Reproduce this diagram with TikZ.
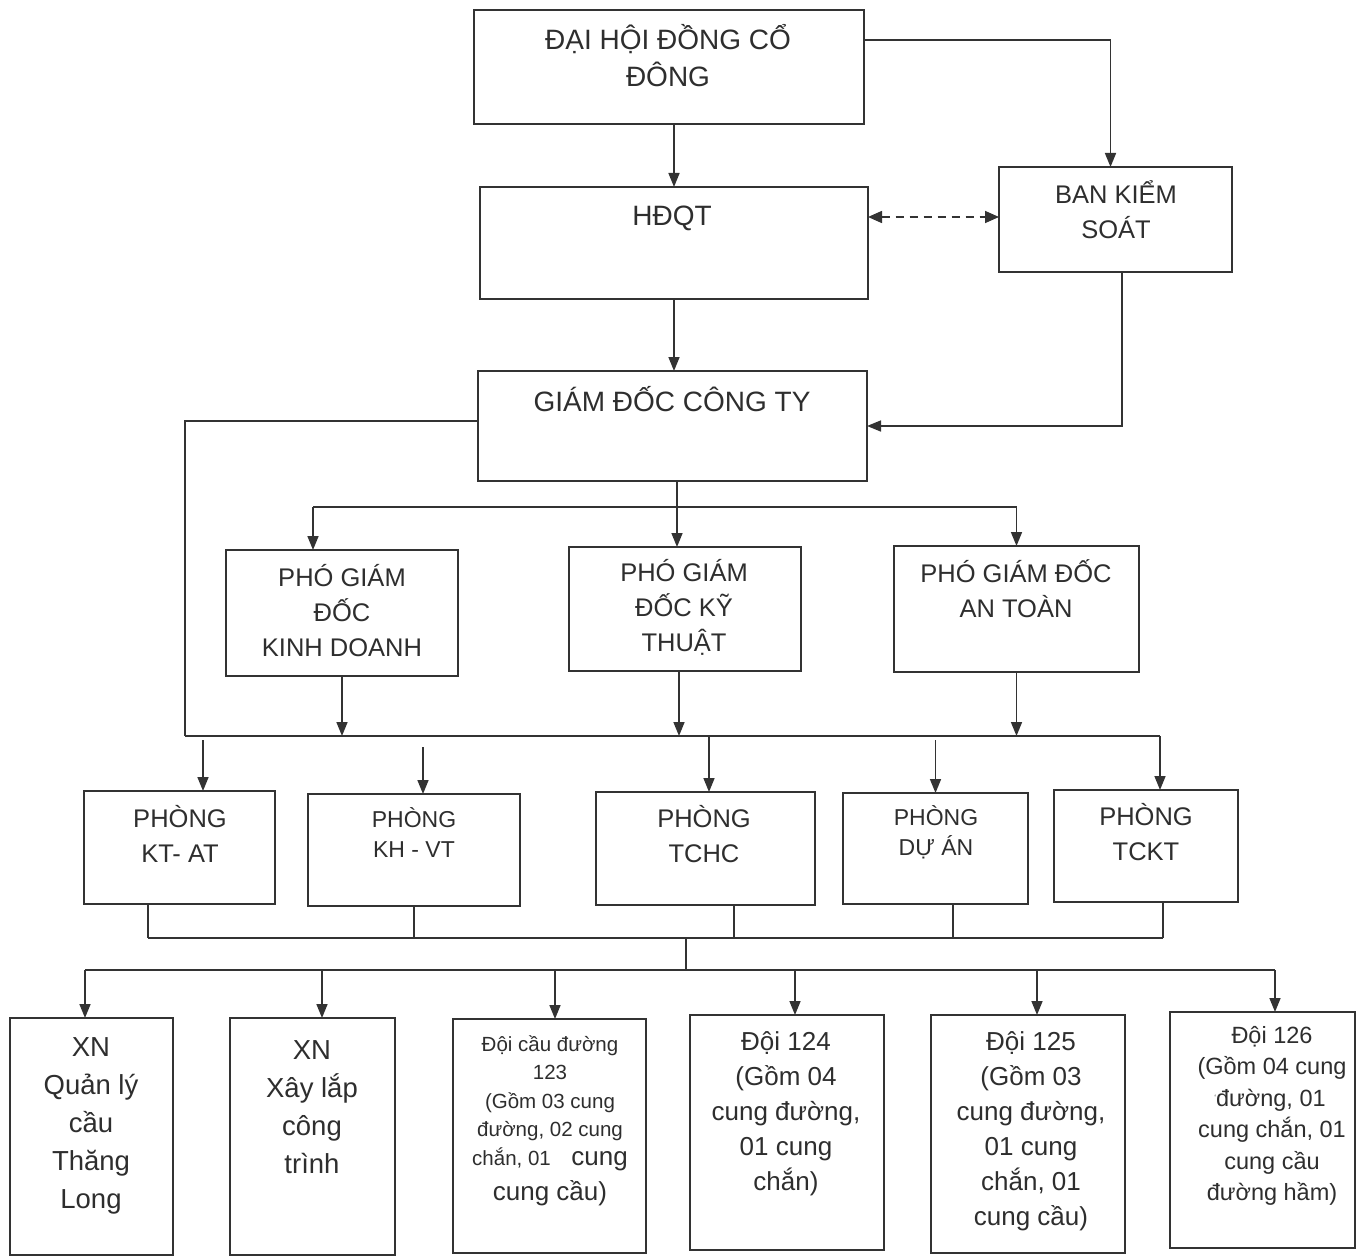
\documentclass[tikz,border=0pt]{standalone}
\usepackage{fontspec}
\setmainfont{Liberation Sans}
\usetikzlibrary{arrows.meta,calc}
\begin{document}
\begin{tikzpicture}[x=1pt,y=-1pt,
 box/.style={draw=black!80,line width=1.8pt,inner sep=0pt,outer sep=0pt},
 ln/.style={draw=black!80,line width=1.6pt},
 arr/.style={ln,-{Triangle[length=14pt,width=11pt]}},
 darr/.style={ln,dash pattern=on 8pt off 6pt,{Triangle[length=14pt,width=12pt]}-{Triangle[length=14pt,width=12pt]}},
 tx/.style={align=center,inner sep=0pt,text=black!82},
 fA/.style={tx,font=\fontsize{28}{37}\selectfont},
 fB/.style={tx,font=\fontsize{25.5}{35}\selectfont},
 fC/.style={tx,font=\fontsize{23}{30}\selectfont},
 fD/.style={tx,font=\fontsize{27.5}{38}\selectfont},
 fE/.style={tx,font=\fontsize{26}{35}\selectfont},
 fF/.style={tx,font=\fontsize{23.5}{31.5}\selectfont},
 fG/.style={tx,font=\fontsize{20.5}{28.5}\selectfont}]
\useasboundingbox[fill=white] (0,0) rectangle (1363,1257);

% ---------- boxes ----------
\node[box,minimum width=390pt,minimum height=114pt] (dhd) at (669,67) {};
\node[box,minimum width=388pt,minimum height=112pt] (hdqt) at (674,243) {};
\node[box,minimum width=233pt,minimum height=105pt] (bks) at (1115.5,219.5) {};
\node[box,minimum width=389pt,minimum height=110pt] (gd) at (672.5,426) {};
\node[box,minimum width=232pt,minimum height=126pt] (pkd) at (342,613) {};
\node[box,minimum width=232pt,minimum height=124pt] (pkt) at (685,609) {};
\node[box,minimum width=245pt,minimum height=126pt] (pat) at (1016.5,609) {};
\node[box,minimum width=191pt,minimum height=113pt] (ktat) at (179.5,847.5) {};
\node[box,minimum width=212pt,minimum height=112pt] (khvt) at (414,850) {};
\node[box,minimum width=219pt,minimum height=113pt] (tchc) at (705.5,848.5) {};
\node[box,minimum width=185pt,minimum height=111pt] (duan) at (935.5,848.5) {};
\node[box,minimum width=184pt,minimum height=112pt] (tckt) at (1146,846) {};
\node[box,minimum width=163pt,minimum height=237pt] (xnql) at (91.5,1136.5) {};
\node[box,minimum width=165pt,minimum height=237pt] (xnxl) at (312.5,1136.5) {};
\node[box,minimum width=193pt,minimum height=234pt] (d123) at (549.5,1136) {};
\node[box,minimum width=194pt,minimum height=235pt] (d124) at (787,1132.5) {};
\node[box,minimum width=194pt,minimum height=238pt] (d125) at (1028,1134) {};
\node[box,minimum width=185pt,minimum height=236pt] (d126) at (1262.5,1130) {};

% ---------- texts ----------
\node[fA] (dhd-t) at (668,56) {ĐẠI HỘI ĐỒNG CỔ\\ĐÔNG};
\node[fA] (hdqt-t) at (672,218) {HĐQT};
\node[fB] (bks-t) at (1116,210) {BAN KIỂM\\SOÁT};
\node[fA] (gd-t) at (672,399) {GIÁM ĐỐC CÔNG TY};
\node[fB] (pkd-t) at (342,611) {PHÓ GIÁM\\ĐỐC\\KINH DOANH};
\node[fB] (pkt-t) at (684,607) {PHÓ GIÁM\\ĐỐC KỸ\\THUẬT};
\node[fB] (pat-t) at (1016,589) {PHÓ GIÁM ĐỐC\\AN TOÀN};
\node[fB] (ktat-t) at (180,834) {PHÒNG\\KT- AT};
\node[fC] (khvt-t) at (414,833) {PHÒNG\\KH - VT};
\node[fB] (tchc-t) at (704,834) {PHÒNG\\TCHC};
\node[fC] (duan-t) at (936,832) {PHÒNG\\DỰ ÁN};
\node[fB] (tckt-t) at (1146,832) {PHÒNG\\TCKT};
\node[fD] (xnql-t) at (91,1126) {XN\\Quản lý\\cầu\\Thăng\\Long};
\node[fD] (xnxl-t) at (312,1107) {XN\\Xây lắp\\công\\trình};
\node[fG] (d123-t) at (550,1121) {Đội cầu đường\\123\\(Gồm 03 cung\\đường, 02 cung\\chắn, 01\quad{\fontsize{26}{28.5}\selectfont cung}\\[7pt]{\fontsize{26}{28.5}\selectfont cung cầu)}};
\node[fE] (d124-t) at (786,1114) {Đội 124\\(Gồm 04\\cung đường,\\01 cung\\chắn)};
\node[fE] (d125-t) at (1031,1131) {Đội 125\\(Gồm 03\\cung đường,\\01 cung\\chắn, 01\\cung cầu)};
\node[fF] (d126-t) at (1272,1116) {Đội 126\\(Gồm 04 cung\\\kern-4pt\raisebox{6pt}{\fontsize{8}{8}\selectfont\textquoteleft}đường, 01\\cung chắn, 01\\cung cầu\\đường hầm)};

% ---------- bus coordinates ----------
\coordinate (g1) at (677,507);
\coordinate (b1L) at (185,736);
\coordinate (b1R) at (1160,736);
\coordinate (b2L) at (148,938);
\coordinate (b2R) at (1163,938);
\coordinate (b2M) at (686,938);
\coordinate (b3M) at (686,970);
\coordinate (b3L) at (85,970);
\coordinate (b3R) at (1275,970);

% ---------- top connectors ----------
\draw[arr] (dhd.south -| hdqt.north) -- (hdqt.north);
\draw[arr] ([yshift=27pt]dhd.east) -| ([xshift=-5pt]bks.north);
\draw[darr] ([yshift=26pt]hdqt.east) -- ([yshift=26pt]hdqt.east -| bks.west);
\draw[arr] (hdqt.south) -- (hdqt.south |- gd.north);
\draw[arr] ([xshift=6.5pt]bks.south) |- (gd.east);

% ---------- director to deputies ----------
\draw[arr] ([xshift=4.5pt]gd.south) -- ([xshift=-8pt]pkt.north);
\draw[ln] ([xshift=-29pt]pkd.north |- g1) -- (pat.north |- g1);
\draw[arr] ([xshift=-29pt]pkd.north |- g1) -- ([xshift=-29pt]pkd.north);
\draw[arr] (pat.north |- g1) -- (pat.north);

% ---------- director side line and bus 1 ----------
\draw[ln] ([yshift=5pt]gd.west) -| (b1L);
\draw[ln] (b1L) -- (b1R);
\draw[arr] (pkd.south) -- (pkd.south |- b1L);
\draw[arr] ([xshift=-6pt]pkt.south) -- ([xshift=-6pt]pkt.south |- b1L);
\draw[arr] (pat.south) -- (pat.south |- b1L);

% ---------- bus 1 to departments ----------
\draw[arr] ([xshift=23.5pt]ktat.north |- b1L) ++(0,4) -- ([xshift=23.5pt]ktat.north);
\draw[arr] ([xshift=9pt]khvt.north |- b1L) ++(0,11) -- ([xshift=9pt]khvt.north);
\draw[arr] ([xshift=3.5pt]tchc.north |- b1L) -- ([xshift=3.5pt]tchc.north);
\draw[arr] (duan.north |- b1L) ++(0,4) -- (duan.north);
\draw[arr] (b1R) -- (b1R |- tckt.north);

% ---------- departments to bus 2 ----------
\draw[ln] ([xshift=-31.5pt]ktat.south) -- ([xshift=-31.5pt]ktat.south |- b2L);
\draw[ln] (khvt.south) -- (khvt.south |- b2L);
\draw[ln] ([xshift=28.5pt]tchc.south) -- ([xshift=28.5pt]tchc.south |- b2L);
\draw[ln] ([xshift=17.5pt]duan.south) -- ([xshift=17.5pt]duan.south |- b2L);
\draw[ln] ([xshift=17pt]tckt.south) -- ([xshift=17pt]tckt.south |- b2L);
\draw[ln] (b2L) -- (b2R);
\draw[ln] (b2M) -- (b3M);
\draw[ln] (b3L) -- (b3R);

% ---------- bus 3 to units ----------
\draw[arr] (b3L) -- (b3L |- xnql.north);
\draw[arr] ([xshift=9.5pt]xnxl.north |- b3L) -- ([xshift=9.5pt]xnxl.north);
\draw[arr] ([xshift=5.5pt]d123.north |- b3L) -- ([xshift=5.5pt]d123.north);
\draw[arr] ([xshift=8pt]d124.north |- b3L) -- ([xshift=8pt]d124.north);
\draw[arr] ([xshift=9pt]d125.north |- b3L) -- ([xshift=9pt]d125.north);
\draw[arr] (b3R) -- (b3R |- d126.north);
\end{tikzpicture}
\end{document}
